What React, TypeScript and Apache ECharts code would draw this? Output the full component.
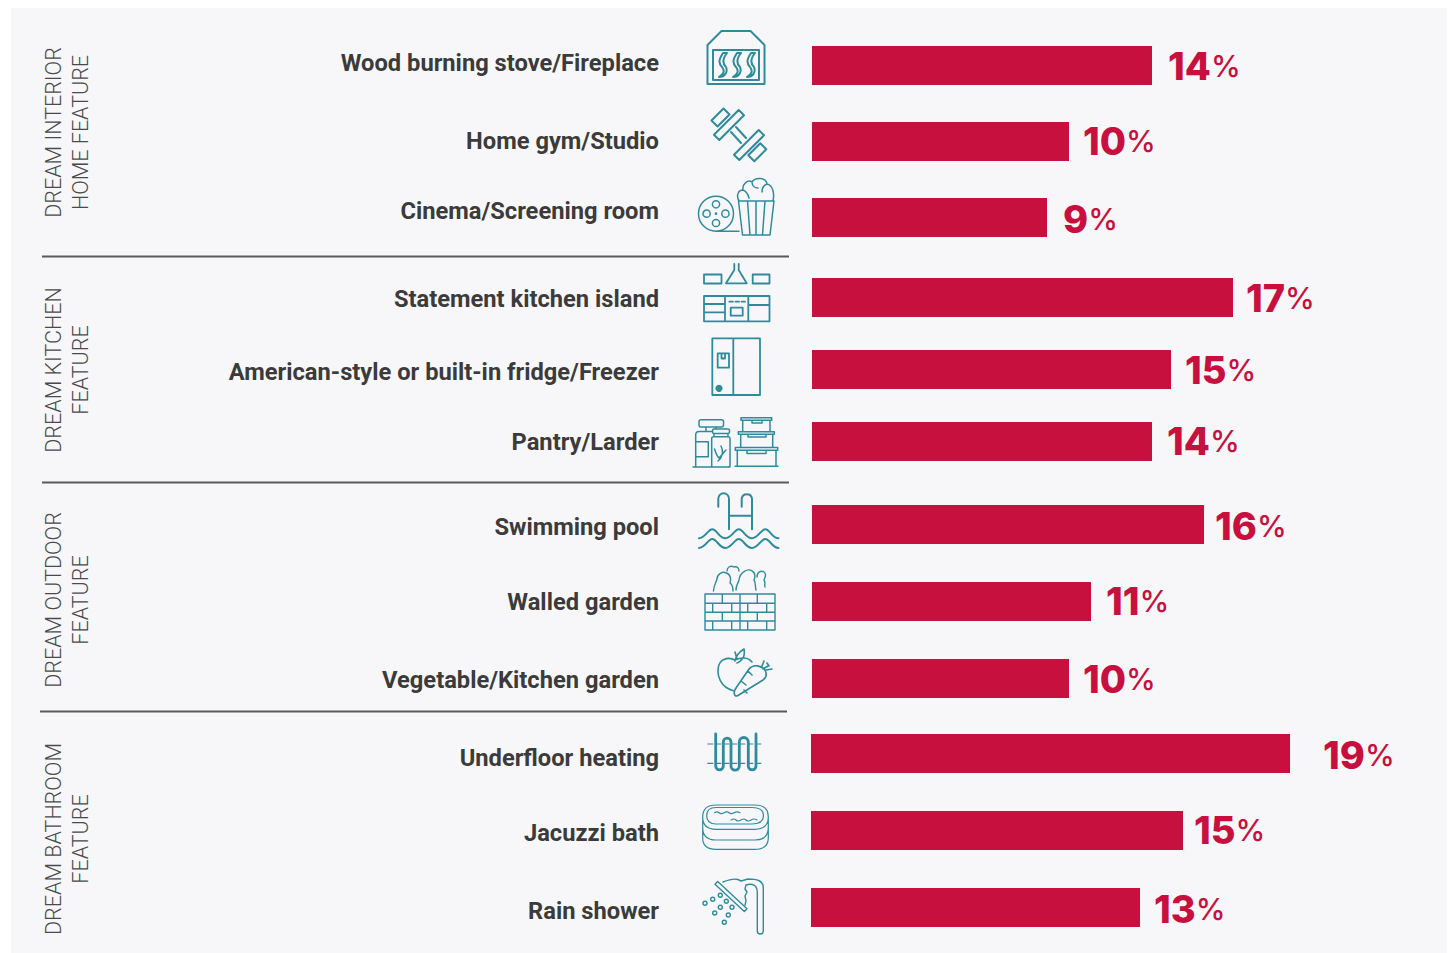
import React, { useEffect, useRef } from "react";
import * as echarts from "echarts";

// ---------- data ----------
const interiorCategories = ["Wood burning stove/Fireplace", "Home gym/Studio", "Cinema/Screening room"];
const kitchenCategories = ["Statement kitchen island", "American-style or built-in fridge/Freezer", "Pantry/Larder"];
const outdoorCategories = ["Swimming pool", "Walled garden", "Vegetable/Kitchen garden"];
const bathroomCategories = ["Underfloor heating", "Jacuzzi bath", "Rain shower"];

const interiorBarValues = [13.6, 10.28, 9.4];
const kitchenBarValues = [16.84, 14.36, 13.6];
const outdoorBarValues = [15.68, 11.16, 10.28];
const bathroomBarValues = [19.16, 14.88, 13.16];

const interiorLabels = [14, 10, 9];
const kitchenLabels = [17, 15, 14];
const outdoorLabels = [16, 11, 10];
const bathroomLabels = [19, 15, 13];

const groupTitles = [
  "DREAM INTERIOR\nHOME FEATURE",
  "DREAM KITCHEN\nFEATURE",
  "DREAM OUTDOOR\nFEATURE",
  "DREAM BATHROOM\nFEATURE",
];

// ---------- layout ----------
const groups = [
  { cats: interiorCategories, vals: interiorBarValues, labs: interiorLabels, top: 27.5, h: 228, left: 812, gaps: [16, 14, 16], textShift: [-3, -1, -7], labelShift: [0, -1, 1], titleY: 132.5 },
  { cats: kitchenCategories, vals: kitchenBarValues, labs: kitchenLabels, top: 261.5, h: 216, left: 812, gaps: [13, 14, 15], textShift: [1, 2, 0], labelShift: [0, 0, -1], titleY: 370 },
  { cats: outdoorCategories, vals: outdoorBarValues, labs: outdoorLabels, top: 486, h: 231, left: 812, gaps: [11, 15, 14], textShift: [2, 0, 1], labelShift: [1, -1, 0], titleY: 600 },
  { cats: bathroomCategories, vals: bathroomBarValues, labs: bathroomLabels, top: 715, h: 231, left: 811, gaps: [33, 11, 14], textShift: [4, 2, 3], labelShift: [1, -1, 1], titleY: 839 },
];
const RED = "#c8103e";
const TEAL = "#2f8b9c";

// ---------- icon helpers ----------
const circ = (cx: number, cy: number, r: number) =>
  `M${cx - r} ${cy}a${r} ${r} 0 1 0 ${2 * r} 0a${r} ${r} 0 1 0 ${-2 * r} 0Z`;
const box = (x0: number, y0: number, x1: number, y1: number) => `M${x0} ${y0}H${x1}V${y1}H${x0}Z`;
const rot = (cx: number, cy: number, w: number, h: number, deg: number) => {
  const a = (deg * Math.PI) / 180;
  const c = Math.cos(a), s = Math.sin(a);
  const p = [[-w / 2, -h / 2], [w / 2, -h / 2], [w / 2, h / 2], [-w / 2, h / 2]].map(
    ([x, y]) => `${(cx + x * c - y * s).toFixed(1)} ${(cy + x * s + y * c).toFixed(1)}`
  );
  return `M${p[0]}L${p[1]}L${p[2]}L${p[3]}Z`;
};
const flame = (x: number) =>
  `M${x + 1} 53C${x - 3} 59 ${x - 4} 63 ${x} 67C${x + 3} 71 ${x + 2} 74 ${x - 3} 77C${x + 3} 77 ${x + 6} 72 ${x + 4} 67C${x} 63 ${x + 1} 58 ${x + 5} 53Z`;
const wave = (y: number) => {
  let d = `M699 ${y}`;
  for (let i = 0, x = 699; i < 3; i++, x += 26.5) {
    d += `C${x + 6} ${y} ${x + 9} ${y - 9} ${x + 13.2} ${y - 9}C${x + 18} ${y - 9} ${x + 20} ${y} ${x + 26.5} ${y}`;
  }
  return d;
};

const iconPaths: { d: string; w: number }[] = [
  // stove
  { d: "M707.5 45L721.5 31H750.5L764.5 45V84H707.5Z" + box(713, 50, 759, 80) + flame(722) + flame(736) + flame(750), w: 2 },
  // dumbbell
  { d: rot(720.5, 117.5, 17, 8.5, -45) + rot(729, 125, 35, 7.5, -45) + rot(749, 145, 35, 7.5, -45) + rot(757.3, 152.3, 17, 8.5, -45) + "M731 132L741 143M736 127L746 138", w: 2 },
  // film reel + popcorn
  { d: circ(716, 213.7, 17.5) + circ(716, 204.3, 3.6) + circ(716, 223, 3.6) + circ(706.6, 213.7, 3.6) + circ(725.4, 213.7, 3.6) + circ(716, 213.7, 0.6) + "M716 231.2H739" +
      "M738.5 201H774L770 235H742.5ZM747.5 201L750 235M756 201V235M765 201L762.5 235" +
      "M739 201C736 196 738 190 743 190C742 184 748 179 752 182C755 177 766 177 767 184C772 185 775 192 773 201M743 190C746 191 748 194 749 198M752 182C752 186 755 188 758 188M767 184C764 185 762 188 762 192", w: 1.5 },
  // kitchen
  { d: box(704, 274.5, 721.5, 283.5) + box(752.7, 274.5, 769.5, 283.5) + "M734.3 264V270L726 283.3H746.7L738.7 270V264" + box(704, 296, 769.5, 321.3) +
      "M725 296V321.3M748.3 296V321.3M704 304H725M704 312.3H725M748.3 305H769.5M729.3 301.7H733M735.5 301.7H739M741.5 301.7H745" + box(730.7, 307.7, 742.7, 315.7), w: 1.8 },
  // fridge
  { d: box(712.3, 338.3, 760, 395) + "M733.3 338.3V395" + box(717.7, 353.3, 729, 367.7) + "M721.5 353.3V358.5H725V353.3", w: 1.8 },
  // pantry
  { d: "M701 419.7H721.5Q723.5 419.7 723.5 421.7V425Q723.5 427 721.5 427H701Q699 427 699 425V421.7Q699 419.7 701 419.7ZM695.7 466.7V435Q695.7 431.5 699 431.5H712.7M706 427V431.5M716 427V429" +
      box(695.7, 441.7, 708.3, 456.7) + "M693 467H730M714 429H728Q729.5 429 729.5 431V432Q729.5 433.5 728 433.5H714Q712.5 433.5 712.5 432V431Q712.5 429 714 429ZM714 433.5V436.7M728 433.5V436.7M711.7 467V438.5Q711.7 436.7 713.5 436.7H728.5Q730 436.7 730 438.5V465Q730 467 728 467M718 461C722 458 724 452 721 446M714.5 449C716 453 717 457 719 458C722 455 724 452 726 450" +
      box(741, 417.7, 771.7, 420.3) + "M742.7 420.3V431M770 420.3V431M752 420.3V423H762V420.3" +
      box(738.3, 431.7, 774.3, 434.3) + "M740.7 434.3V447.5M772.7 434.3V447.5M748 434.3V437H766V434.3" +
      box(735.3, 447.5, 777.7, 450.3) + "M737.3 450.3V466.3M776 450.3V466.3M747 450.3V453.5H766V450.3M735 466.3H778", w: 1.5 },
  // pool
  { d: "M729 529.3V498.7A5.3 5.3 0 0 0 718.3 498.7V506.7M752 529.3V498.7A5.2 5.2 0 0 0 741.7 498.7V506.7M729 515.7H752" + wave(538.3) + wave(548), w: 2 },
  // walled garden
  { d: box(705, 594, 775, 630) + "M705 603.3H775M705 612.3H775M705 621H775M740 594V630M722.3 594V603.3M757.3 594V603.3M712.7 603.3V612.3M731.7 603.3V612.3M747.7 603.3V612.3M766.7 603.3V612.3M722.3 612.3V621M757.3 612.3V621M712.7 621V630M731.7 621V630M747.7 621V630M766.7 621V630" +
      "M713.5 591C714 584 716 583 717 579C717 574 723 571 726 573C731 574 731 580 730 583C733 585 733 589 733 591M727 571C727 567 731 565 734 567C737 566 739 568 739 571M736 590C736 585 738 584 739 580C740 572 748 568 752 571C756 573 755 578 754 580C756 583 755 587 756 590M757 577C757 572 761 570 764 572C767 574 765 578 764 580C766 583 764 585 765 587", w: 1.4 },
  // apple + carrot
  { d: "M733.3 690.7C720 687 717 675 718.3 668C719 660 727 656 735 660C741 657 748 657 752 662M735 661C736 654 741 651 744 649C745 654 744 660 737 663M735 652L737 659" +
      "M735.5 696C733.5 694 734 691 736 688L749 669C753 664 762 665 765.5 671C767 675 766 678 763 680L738 695.5C737 696 736 696 735.5 696ZM748 671L752 675M741 681L746 685M744 690L747 693M763 669L768 666M762 666L764 661M766 670L772 669M767 663L769 666", w: 1.6 },
  // radiator
  { d: "M715.7 734V766A3.8 3.8 0 0 0 723.3 766V742A3.85 3.85 0 0 1 731 742V766A4.15 4.15 0 0 0 739.3 766V742A4.5 4.5 0 0 1 748.3 742V766A3.85 3.85 0 0 0 756 766V734", w: 2.8 },
  // jacuzzi
  { d: "M716 805H755Q768.3 805 768.3 817Q768.3 829.3 755 829.3H716Q702.7 829.3 702.7 817Q702.7 805 716 805ZM716 807.5H752Q763.5 807.5 763.5 815.5Q763.5 824 752 824H716Q706.7 824 706.7 815.5Q706.7 807.5 716 807.5ZM702.7 817V838Q702.7 849.3 716 849.3H755Q768.3 849.3 768.3 838V817M702.7 828Q703 840 716 840H755Q768 840 768.3 828" +
      "M714.5 812.7Q717 811 719 812.7T724 812.7T729 812.7T734 812.7T740 812.7M731 820Q734 818 736 820T741 820T746 820T751 820T757 820", w: 1.2 },
  // shower
  { d: "M757.3 931V892C757.3 885 752 883 746 885M763.3 931V888C763.3 880 756 879 748 879L741 881L738 879.5C733 878 728 880 723 882M757.3 931A3 3 0 0 0 763.3 931M746 885L745 889L747 892L745 896L746 901L745 905" +
      rot(731, 896.5, 40, 4, 43) + circ(705, 903.3, 2) + circ(712.7, 899.3, 2) + circ(720.3, 895.3, 2) + circ(726.3, 901.3, 2) + circ(720.3, 907.3, 2) + circ(732, 907.3, 2) + circ(714.7, 913, 2) + circ(728.3, 915, 2) + circ(724.3, 922.3, 2), w: 1.4 },
];

iconPaths.forEach((p, i) => {
  echarts.graphic.registerShape("icon" + i, echarts.graphic.extendPath(p.d, {}));
});

const catFont = { fontFamily: "Roboto", fontWeight: 700, fontSize: 23.7, color: "#3b3b3b" };

export default function App() {
  const ref = useRef<HTMLDivElement>(null);
  useEffect(() => {
    const chart = echarts.init(ref.current!, undefined, { renderer: "svg", width: 1451, height: 953 });
    const graphic: any[] = [
      { type: "rect", silent: true, z: -10, shape: { x: 11, y: 8, width: 1436, height: 945 }, style: { fill: "#f7f7fa" } },
      ...[[42, 256.5, 789], [42, 482.5, 789], [40, 711.5, 787]].map(([x1, y, x2]) => ({
        type: "line", silent: true, shape: { x1, y1: y, x2, y2: y }, style: { stroke: "#5a5a5a", lineWidth: 2 },
      })),
      ...groupTitles.map((t, i) => ({
        type: "text", silent: true, x: 66.5, y: groups[i].titleY, rotation: Math.PI / 2,
        style: { text: t, fontFamily: "Roboto", fontWeight: 300, fontSize: 21.5, lineHeight: 27, textAlign: "center", textVerticalAlign: "middle", verticalAlign: "middle", fill: "#4a4a4a" },
      })),
      ...iconPaths.map((p, i) => ({
        type: "icon" + i, x: 0, y: 0, silent: true, style: { fill: "none", stroke: TEAL, lineWidth: p.w, lineJoin: "round", lineCap: "round" },
      })),
      { type: "circle", silent: true, shape: { cx: 719, cy: 388.3, r: 3.6 }, style: { fill: TEAL } },
      { type: "line", silent: true, shape: { x1: 707.3, y1: 744, x2: 763.3, y2: 744 }, style: { stroke: TEAL, lineWidth: 1.2, lineDash: [6, 2] } },
      { type: "line", silent: true, shape: { x1: 707.3, y1: 763.3, x2: 763.3, y2: 763.3 }, style: { stroke: TEAL, lineWidth: 1.2, lineDash: [6, 2] } },
    ];
    chart.setOption({
      animation: false,
      backgroundColor: "#ffffff",
      graphic,
      grid: groups.map((g) => ({ left: g.left, top: g.top, width: 600, height: g.h, containLabel: false })),
      xAxis: groups.map((_, i) => ({ type: "value", gridIndex: i, min: 0, max: 24, show: false })),
      yAxis: groups.map((g, i) => ({
        type: "category",
        gridIndex: i,
        inverse: true,
        data: g.cats,
        axisLine: { show: false },
        axisTick: { show: false },
        splitLine: { show: false },
        axisLabel: {
          margin: g.left === 811 ? 152 : 153,
          interval: 0,
          align: "right",
          ...catFont,
          formatter: (v: string, j: number) => `{r${j}|${v}}`,
          rich: Object.fromEntries(
            g.textShift.map((s, j) => [
              "r" + j,
              { ...catFont, padding: s < 0 ? [0, 0, -2 * s, 0] : [2 * s, 0, 0, 0] },
            ])
          ),
        },
      })),
      series: groups.map((g, i) => ({
        type: "bar",
        xAxisIndex: i,
        yAxisIndex: i,
        barWidth: 39,
        itemStyle: { color: RED },
        data: g.vals.map((v, j) => ({
          value: v,
          label: {
            show: true,
            position: "right",
            distance: g.gaps[j],
            offset: [0, g.labelShift[j]],
            formatter: `{n|${g.labs[j]}}{p|%}`,
            rich: {
              n: { fontFamily: "Inter", fontWeight: 800, fontSize: 38, color: RED },
              p: { fontFamily: "Inter", fontWeight: 500, fontSize: 30, color: RED },
            },
          },
        })),
      })),
    });
    return () => chart.dispose();
  }, []);
  return <div ref={ref} style={{ position: "absolute", left: 0, top: 0, width: 1451, height: 953 }} />;
}
